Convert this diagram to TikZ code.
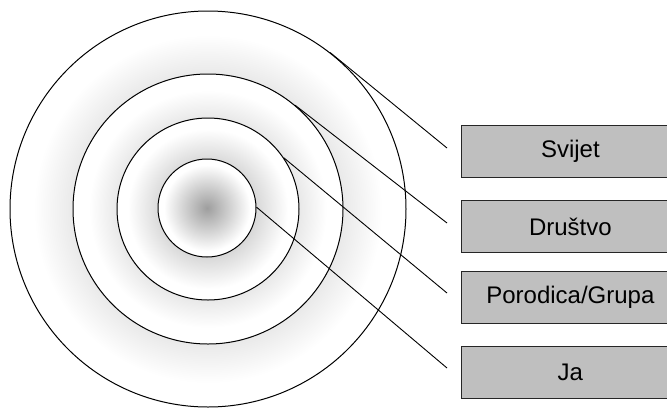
\documentclass[tikz,border=0pt]{standalone}
\usepackage{fontspec}
\setmainfont{Liberation Sans}
\pgfdeclareradialshading{anillo}{\pgfpoint{0bp}{0bp}}{color(0bp)=(black!38); color(22bp)=(white); color(50bp)=(white)}
\begin{document}
\begin{tikzpicture}[x=1pt, y=-1pt,
    circulo/.style={circle, draw, line width=1pt, shade, shading=anillo, inner sep=0pt},
    caja/.style={draw=black!85, fill=black!25, line width=0.8pt, anchor=north west,
      minimum width=218pt, minimum height=52pt, font=\fontsize{24}{28}\selectfont},
    linea/.style={line width=0.9pt}]
    \useasboundingbox (0,0) rectangle (667,408);

    % Circulos concentricos
    \node[circulo, minimum size=396pt] (svijet) at (208,209) {};
    \node[circulo, minimum size=270pt] (drustvo) at (208,209) {};
    \node[circulo, minimum size=182pt] (porodica) at (208,209) {};
    \node[circulo, minimum size=98pt] (ja) at (207,208) {};

    % Cajas con etiquetas
    \node[caja] (csvijet) at (461,125) {Svijet};
    \node[caja] (cdrustvo) at (461,200) {Društvo};
    \node[caja] (cporodica) at (461,271) {Porodica/Grupa};
    \node[caja] (cja) at (461,346) {Ja};

    % Extremos de las lineas
    \coordinate (e1) at (447,148);
    \coordinate (e2) at (447,223);
    \coordinate (e3) at (447,293);
    \coordinate (e4) at (447,368);

    % Lineas
    \draw[linea] (svijet.52.4) -- (e1);
    \draw[linea] (drustvo.50.2) -- (e2);
    \draw[linea] (porodica.34.4) -- (e3);
    \draw[linea] (ja.1) -- (e4);
\end{tikzpicture}
\end{document}
